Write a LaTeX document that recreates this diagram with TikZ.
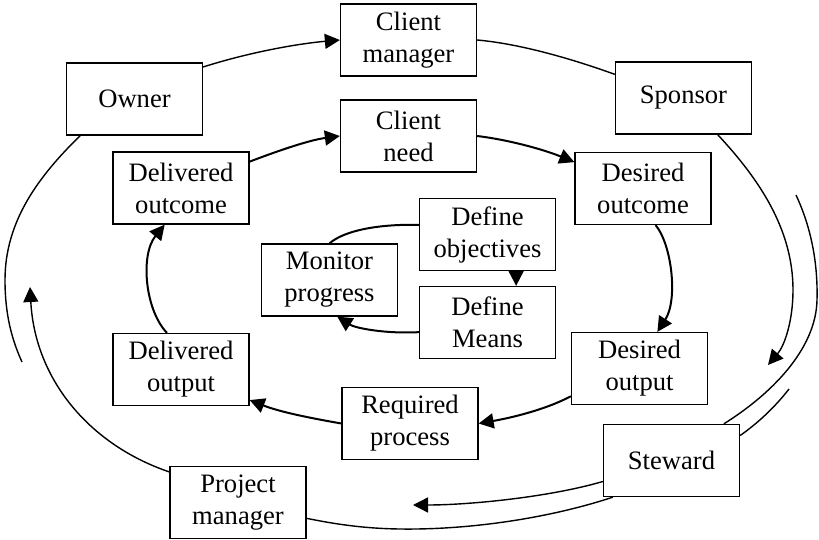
\documentclass[tikz,border=0pt]{standalone}
\usepackage{fontspec}
\setmainfont{Liberation Serif}
\usetikzlibrary{arrows.meta}
\begin{document}
\begin{tikzpicture}[x=0.5pt,y=-0.5pt,
  box/.style={draw,line width=0.65pt,minimum width=68pt,minimum height=36pt,
    inner sep=0pt,align=center,font=\fontsize{13.3}{16}\selectfont},
  outerline/.style={line width=0.7pt},
  innerline/.style={line width=1pt},
  arrowed/.style={-{Triangle[length=7.5pt,width=7.5pt]}}
]
\useasboundingbox (0,0) rectangle (819,540);

% boxes
\node[box] (owner)     at (134.5,99)  {Owner};
\node[box] (cmgr)      at (408.5,40)  {Client\\manager};
\node[box] (cneed)     at (408.5,136) {Client\\need};
\node[box] (sponsor)   at (683.5,98)  {Sponsor};
\node[box] (delcome)   at (181,188)   {Delivered\\outcome};
\node[box] (descome)   at (643,188.5) {Desired\\outcome};
\node[box] (defobj)    at (487.5,234.5) {Define\\objectives};
\node[box] (defmeans)  at (487.5,322.5) {Define\\Means};
\node[box] (monitor)   at (329.5,280) {Monitor\\progress};
\node[box] (delput)    at (181,369.5) {Delivered\\output};
\node[box] (reqproc)   at (410,423.5) {Required\\process};
\node[box] (desput)    at (639.5,368.5) {Desired\\output};
\node[box] (steward)   at (671.5,460.5) {Steward};
\node[box] (pmgr)      at (238,502.5) {Project\\manager};

% free ends of the outer arcs
\coordinate (sponsorEnd) at (768,365);
\coordinate (rightStart) at (796,195);
\coordinate (stewardEnd) at (789,389);
\coordinate (bottomEnd)  at (413,505);
\coordinate (leftEnd)    at (30,287);
\coordinate (ownerEnd)   at (22,362);

% outer loop
\draw[outerline,arrowed] (owner.25) .. controls (247,53) and (295,44) .. (cmgr.west);
\draw[outerline] (cmgr.east) .. controls (522,44) and (575,60) .. (sponsor.161);
\draw[outerline,arrowed] (sponsor.-47) .. controls (760,180) and (793,230) .. (793,290)
  .. controls (793,320) and (785,345) .. (sponsorEnd);
\draw[outerline] (rightStart) .. controls (810,225) and (818,260) .. (817,300)
  .. controls (816,350) and (770,395) .. (steward.35);
\draw[outerline] (steward.20) .. controls (758,423) and (775,407) .. (stewardEnd);
\draw[outerline,arrowed] (steward.197) .. controls (550,497) and (470,505) .. (bottomEnd);
\draw[outerline] (steward.212.5) .. controls (550,518) and (470,530) .. (400,529)
  .. controls (360,528.5) and (330,523) .. (pmgr.-13);
\draw[outerline,arrowed] (pmgr.156.6) .. controls (90,445) and (35,380) .. (leftEnd);
\draw[outerline] (owner.214.4) .. controls (40,175) and (5,220) .. (5,280)
  .. controls (5,315) and (12,340) .. (ownerEnd);

% inner loop
\draw[innerline,arrowed] (delcome.21) .. controls (280,150) and (310,140) .. (cneed.west);
\draw[innerline,arrowed] (cneed.east) .. controls (510,140) and (545,150) .. (descome.159.4);
\draw[innerline,arrowed] (descome.-71.6) .. controls (672,245) and (678,300) .. (desput.64.4);
\draw[innerline,arrowed] (desput.202.9) .. controls (545,410) and (510,418) .. (reqproc.east);
\draw[innerline,arrowed] (reqproc.west) .. controls (310,418) and (280,412) .. (delput.-24.2);
\draw[innerline,arrowed] (delput.111.5) .. controls (145,310) and (140,255) .. (delcome.246);

% innermost loop
\draw[innerline] (defobj.172) .. controls (380,224) and (345,230) .. (monitor.north);
\draw[innerline,arrowed] (defobj.-52.6) -- (defmeans.52.6);
\draw[innerline,arrowed] (defmeans.188.8) .. controls (385,334) and (355,328) .. (monitor.-78);
\end{tikzpicture}
\end{document}
